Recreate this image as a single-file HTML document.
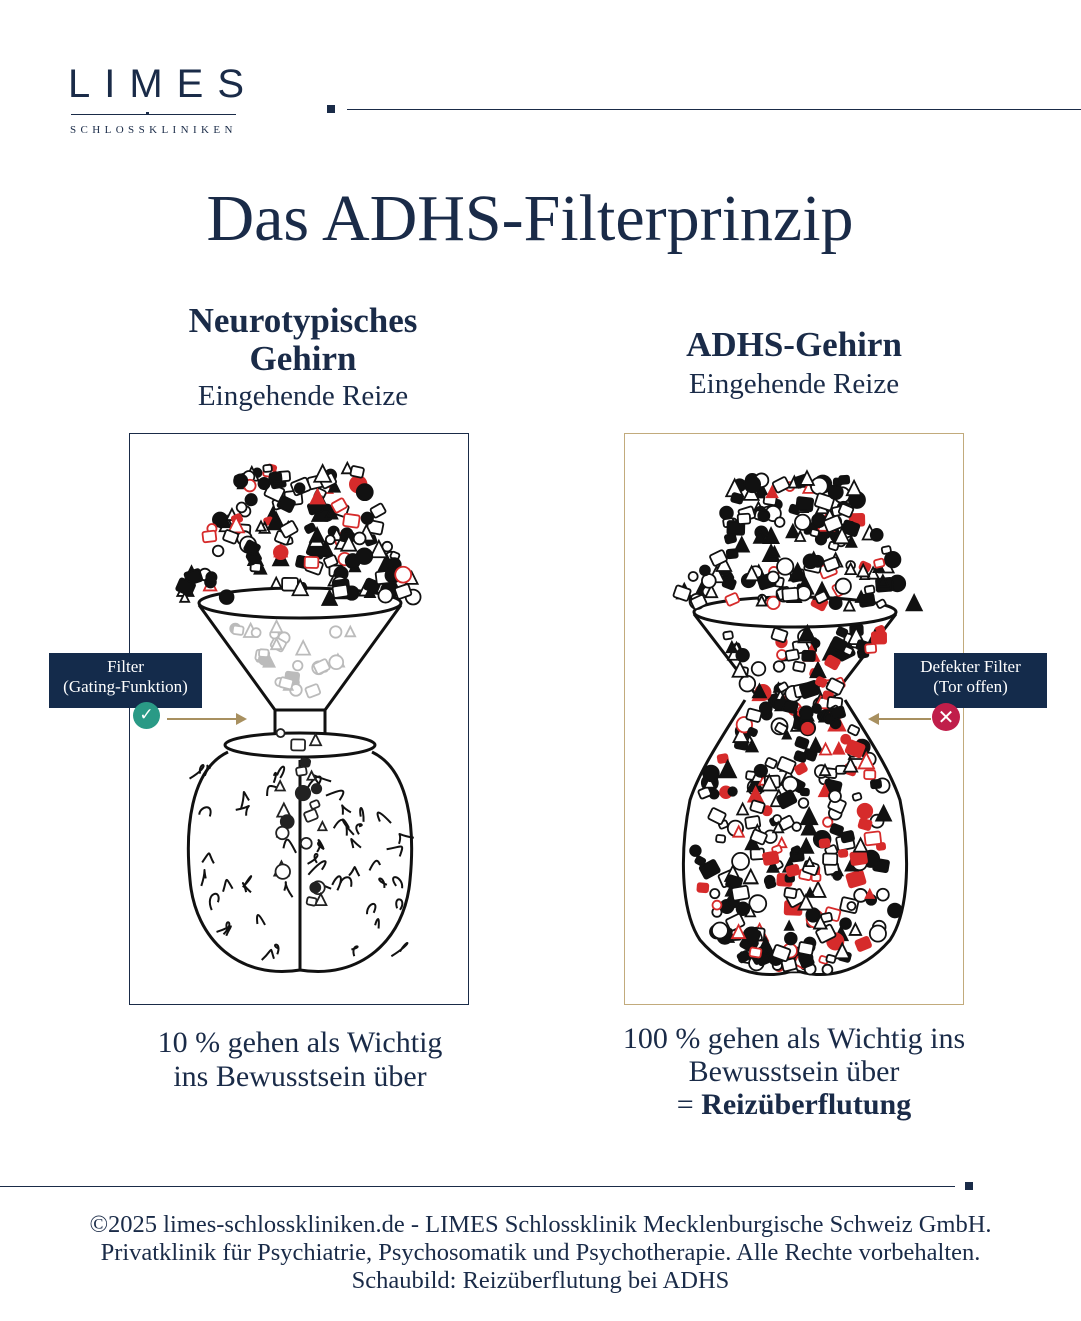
<!DOCTYPE html>
<html><head><meta charset="utf-8"><style>
body{margin:0;background:#fff;}
#p{position:relative;width:1081px;height:1321px;overflow:hidden;font-family:"Liberation Serif",serif;color:#1a2b48;}
.a{position:absolute;}
.c{text-align:center;}
</style></head><body><div id="p">
<div class="a" style="left:68px;top:62px;font-size:40px;letter-spacing:14px;font-family:'Liberation Sans',sans-serif;color:#1a2b48;white-space:nowrap">LIMES</div>
<div class="a" style="left:71px;top:114px;width:93px;height:1px;background:#1a2b48"></div>
<div class="a" style="left:146px;top:112px;width:3px;height:3px;background:#1a2b48"></div>
<div class="a" style="left:158px;top:114px;width:78px;height:1px;background:#1a2b48"></div>
<div class="a" style="left:70px;top:124px;font-size:11px;letter-spacing:4.4px;white-space:nowrap">SCHLOSSKLINIKEN</div>
<div class="a" style="left:327px;top:105px;width:8px;height:8px;background:#1a2b48"></div>
<div class="a" style="left:347px;top:109px;width:734px;height:1px;background:#1a2b48"></div>
<div class="a c" style="left:0;width:1060px;top:181px;font-size:66px">Das ADHS-Filterprinzip</div>
<div class="a c" style="left:103px;width:400px;top:302px;font-size:35px;font-weight:bold;line-height:38px">Neurotypisches<br>Gehirn</div>
<div class="a c" style="left:103px;width:400px;top:380px;font-size:29px">Eingehende Reize</div>
<div class="a c" style="left:594px;width:400px;top:325px;font-size:35px;font-weight:bold">ADHS-Gehirn</div>
<div class="a c" style="left:594px;width:400px;top:368px;font-size:29px">Eingehende Reize</div>
<div class="a" style="left:129px;top:433px;width:338px;height:570px;border:1px solid #1a2b48"></div>
<div class="a" style="left:624px;top:433px;width:338px;height:570px;border:1px solid #c2ab7c"></div>
<svg class="a" style="left:0;top:0" width="1081" height="1321" id="s">
<g fill="none" stroke="#111" stroke-width="3">
<ellipse cx="300" cy="603" rx="101" ry="15"/>
<path d="M199 605 L275 710 L325 710 L401 605"/>
<path d="M275 710 L275 735 M325 710 L325 735"/>
<ellipse cx="300" cy="745" rx="75" ry="12"/>
<path d="M228 752 C190 770 185 830 190 880 C195 940 240 980 300 970 C360 980 405 940 410 880 C415 830 410 770 372 752"/>
<path d="M300 760 L300 970"/>
<ellipse cx="795" cy="612" rx="101" ry="15"/>
<path d="M694 614 L760 700 M896 614 L830 700"/>
<path d="M745 700 C720 740 700 770 690 800 C680 850 680 910 700 940 C730 975 770 980 795 970 C820 980 860 975 890 940 C910 910 910 850 900 800 C890 770 870 740 845 700"/>
</g>
<g stroke="#111" stroke-width="2" fill="none" id="brainlines"></g>
<g id="icons"></g>
<path d="M167 719 L240 719" stroke="#a89060" stroke-width="2"/>
<path d="M236 713 L247 719 L236 725" fill="#a89060"/>
<path d="M931 719 L876 719" stroke="#a89060" stroke-width="2"/>
<path d="M879 713 L868 719 L879 725" fill="#a89060"/>
</svg>
<div class="a c" style="left:49px;top:653px;width:153px;height:55px;background:#142b4b;color:#fff;font-size:17px;line-height:20px;padding-top:4px;box-sizing:border-box">Filter<br>(Gating-Funktion)</div>
<div class="a c" style="left:133px;top:702px;width:27px;height:27px;border-radius:50%;background:#2a9a86;color:#fff;font-size:17px;line-height:27px;font-family:'DejaVu Sans'">✓</div>
<div class="a c" style="left:894px;top:653px;width:153px;height:55px;background:#142b4b;color:#fff;font-size:17px;line-height:20px;padding-top:4px;box-sizing:border-box">Defekter Filter<br>(Tor offen)</div>
<div class="a c" style="left:932px;top:703px;width:28px;height:28px;border-radius:50%;background:#c01e4a;color:#fff;font-size:20px;line-height:28px;font-family:'DejaVu Sans'">✕</div>
<div class="a c" style="left:100px;width:400px;top:1026px;font-size:30px;line-height:34px">10 % gehen als Wichtig<br>ins Bewusstsein über</div>
<div class="a c" style="left:584px;width:420px;top:1022px;font-size:30px;line-height:33px">100 % gehen als Wichtig ins<br>Bewusstsein über<br>= <b>Reizüberflutung</b></div>
<div class="a" style="left:0;top:1186px;width:955px;height:1px;background:#1a2b48"></div>
<div class="a" style="left:965px;top:1182px;width:8px;height:8px;background:#1a2b48"></div>
<div class="a c" style="left:0;width:1081px;top:1211px;font-size:24.5px;line-height:28px">©2025 limes-schlosskliniken.de - LIMES Schlossklinik Mecklenburgische Schweiz GmbH.<br>Privatklinik für Psychiatrie, Psychosomatik und Psychotherapie. Alle Rechte vorbehalten.<br>Schaubild: Reizüberflutung bei ADHS</div>
</div>
<script>
var seed=7;function r(){seed=(seed*16807)%2147483647;return seed/2147483647;}
var g=document.getElementById('icons'),out='';
function icon(x,y,s,col,fillp){var t=r(),f=r()<fillp?col:'#fff';
 if(t<0.35)out+='<circle cx="'+x+'" cy="'+y+'" r="'+s/2+'" fill="'+f+'" stroke="'+col+'" stroke-width="1.8"/>';
 else if(t<0.7)out+='<rect x="'+(x-s/2)+'" y="'+(y-s/2)+'" width="'+s+'" height="'+s*0.8+'" rx="2" fill="'+f+'" stroke="'+col+'" stroke-width="1.8" transform="rotate('+(r()*60-30)+' '+x+' '+y+')"/>';
 else out+='<path d="M'+(x-s/2)+' '+(y+s/2)+' L'+x+' '+(y-s/2)+' L'+(x+s/2)+' '+(y+s/2)+'Z" fill="'+f+'" stroke="'+col+'" stroke-width="1.8"/>';}
function cloud(cx,w,top,bot,n){for(var i=0;i<n;i++){var y=top+r()*(bot-top);var k=(y-top)/(bot-top);var hw=w*(0.45+0.55*k);var x=cx+(r()*2-1)*hw;icon(x,y,8+r()*9,r()<0.1?'#d62b2b':'#111',0.45);}}
cloud(300,125,468,598,150);cloud(795,125,478,606,150);
for(var i=0;i<30;i++){var y=625+r()*70,hw=85*(1-(y-605)/110);icon(300+(r()*2-1)*hw,y,8+r()*6,'#bbb',0.2);}
for(var i=0;i<22;i++){icon(300+(r()*2-1)*25,715+r()*190,8+r()*7,'#222',0.2);}
for(var i=0;i<330;i++){var y=630+r()*340,hw;if(y<700)hw=90*(1-(y-614)/110)+15;else if(y<790)hw=40+(y-700)*0.6;else hw=100-Math.max(0,(y-920))*1.2;var x=795+(r()*2-1)*hw;icon(x,y,8+r()*9,r()<0.22?'#d62b2b':'#111',0.5);}
g.innerHTML=out;
var b='';for(var i=0;i<60;i++){var x=200+r()*200,y=770+r()*190;if(Math.abs(x-300)<14)continue;b+='<path d="M'+x+' '+y+' c'+(r()*20-10)+' -14 '+(r()*30-15)+' -10 '+(r()*30-15)+' '+(r()*16-8)+'"/>';}
document.getElementById('brainlines').innerHTML=b;
</script>
</body></html>
